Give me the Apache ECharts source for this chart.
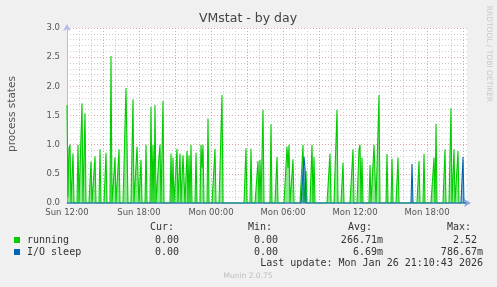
<!DOCTYPE html>
<html>
<head>
<meta charset="utf-8">
<script src="https://cdn.jsdelivr.net/npm/echarts@6/dist/echarts.min.js"></script>
<style>
html,body{margin:0;padding:0;background:#f0f0f0;}
#c{width:497px;height:287px;}
</style>
</head>
<body>
<div id="c"></div>
<script>
// ---- data (5-minute samples starting Sun 12:00; samples not listed are 0) ----
const sampleMinutes = 5;
const sampleCount = 400;
const tickLabels = ['Sun 12:00', 'Sun 18:00', 'Mon 00:00', 'Mon 06:00', 'Mon 12:00', 'Mon 18:00'];
const runningIdx = [0, 1, 2, 3, 6, 11, 15, 18, 24, 28, 33, 39, 44, 48, 52, 59, 60, 66, 70, 71, 74, 79, 84, 86, 88, 92, 93, 96,
  104, 106, 110, 113, 116, 117, 120, 122, 124, 129, 134, 135, 136, 141, 148, 155,
  179, 184, 191, 193, 196, 204, 210, 220, 221, 222, 226, 236, 239, 245, 247,
  263, 270, 276, 286, 292, 293, 295, 303, 307, 308, 312, 320, 325, 331,
  352, 357, 367, 369, 378, 384, 387, 391];
const runningVal = [1.68, 0.1, 0.94, 1.0, 0.85, 1.0, 1.71, 1.54, 0.71, 0.8, 0.92, 0.86, 2.52, 0.78, 0.92, 1.97, 2.0, 1.78, 0.97, 1.0, 0.74, 1.0, 1.65, 1.0, 1.68, 0.8, 1.0, 1.75,
  0.85, 0.78, 0.93, 0.85, 0.82, 0.82, 0.89, 0.82, 1.0, 0.86, 1.0, 0.6, 1.0, 1.45, 0.93, 1.85,
  0.94, 0.93, 0.72, 0.74, 1.6, 1.35, 0.79, 0.97, 0.6, 1.0, 0.75, 1.0, 0.55, 1.0, 0.79,
  0.85, 1.6, 0.69, 0.92, 0.92, 1.0, 0.78, 0.65, 1.0, 1.0, 1.85, 0.84, 0.76, 0.78,
  0.72, 0.84, 0.78, 1.36, 0.92, 1.63, 0.92, 0.89];
const ioIdx = [237, 238, 345, 396];
const ioVal = [0.79, 0.6, 0.67, 0.79];
const legendNames = ['running', 'I/O sleep'];
const curVals = ['0.00', '0.00'];
const minVals = ['0.00', '0.00'];
const avgVals = ['266.71m', '6.69m'];
const maxVals = ['2.52', '786.67m'];
const lastUpdate = 'Last update: Mon Jan 26 21:10:43 2026';

function buildSeries(idx, val) {
  const arr = [];
  for (let i = 0; i < sampleCount; i++) arr.push([i * sampleMinutes, 0]);
  idx.forEach((k, j) => { arr[k][1] = val[j]; });
  return arr;
}
const runningData = buildSeries(runningIdx, runningVal);
const ioData = buildSeries(ioIdx, ioVal);

const GREEN = '#00cc00', BLUE = '#0066b3';
const MAJOR = '#e4a2a2', MINOR = '#cfcfcf';
const FONT = 'DejaVu Sans', MONO = 'DejaVu Sans Mono';

const majorX = [];
for (let m = 180; m < sampleCount * sampleMinutes; m += 180) majorX.push({xAxis: m});

const chart = echarts.init(document.getElementById('c'), null, {renderer: 'canvas'});
const mono = (text, x, y, align, color) => ({
  type: 'text', x: x, y: y,
  style: {text: text, font: '10px "' + MONO + '"', fill: color || '#333', align: align || 'left', verticalAlign: 'middle'}
});
const rows = [240, 252];
const graphics = [
  {type: 'text', x: 248, y: 19, style: {text: 'VMstat - by day', font: '12.5px "' + FONT + '"', fill: '#444', align: 'center', verticalAlign: 'middle'}},
  {type: 'text', x: 12, y: 114, rotation: Math.PI / 2, style: {text: 'process states', font: '10.5px "' + FONT + '"', fill: '#555', align: 'center', verticalAlign: 'middle'}},
  {type: 'text', x: 489, y: 54, rotation: -Math.PI / 2, style: {text: 'RRDTOOL / TOBI OETIKER', font: '7.5px "' + FONT + '"', fill: '#c8c8c8', align: 'center', verticalAlign: 'middle'}},
  {type: 'text', x: 248, y: 276, style: {text: 'Munin 2.0.75', font: '7.5px "' + FONT + '"', fill: '#bdbdbd', align: 'center', verticalAlign: 'middle'}},
  mono('Cur:', 150, 227), mono('Min:', 248, 227), mono('Avg:', 348, 227), mono('Max:', 447, 227),
  mono(lastUpdate, 483, 263, 'right')
];
[GREEN, BLUE].forEach((c, i) => {
  graphics.push({type: 'rect', shape: {x: 14, y: rows[i] - 3, width: 6, height: 6}, style: {fill: c}});
  graphics.push(mono(legendNames[i], 27, rows[i]));
  graphics.push(mono(curVals[i], 179, rows[i], 'right'));
  graphics.push(mono(minVals[i], 278, rows[i], 'right'));
  graphics.push(mono(avgVals[i], 383, rows[i], 'right'));
  graphics.push(mono(maxVals[i], i === 0 ? 477 : 483, rows[i], 'right'));
});

chart.setOption({
  backgroundColor: '#f0f0f0',
  animation: false,
  grid: {left: 67, top: 28, width: 400, height: 175, show: true, backgroundColor: '#ffffff', borderWidth: 0, containLabel: false},
  xAxis: {
    type: 'value', min: 0, max: sampleCount * sampleMinutes, interval: 60,
    axisLine: {show: true, lineStyle: {color: '#8fa3e3', width: 1}, symbol: ['none', 'arrow'], symbolSize: [6, 7], symbolOffset: [0, 4]},
    axisTick: {show: false},
    axisLabel: {
      margin: 5, color: '#555', fontFamily: FONT, fontSize: 8.5, showMaxLabel: true, showMinLabel: true,
      formatter: v => (v % 360 === 0 && v / 360 < tickLabels.length) ? tickLabels[v / 360] : ''
    },
    splitLine: {show: true, showMinLine: false, showMaxLine: false, lineStyle: {color: MINOR, type: [1, 2], width: 1}}
  },
  yAxis: {
    type: 'value', min: 0, max: 3, interval: 0.5,
    axisLine: {show: true, lineStyle: {color: '#b4bcee', width: 1}, symbol: ['none', 'arrow'], symbolSize: [6, 7], symbolOffset: [0, 4]},
    axisTick: {show: false},
    axisLabel: {margin: 7, color: '#555', fontFamily: FONT, fontSize: 8.5, formatter: v => v.toFixed(1)},
    splitLine: {show: true, lineStyle: {color: MAJOR, type: [1, 2], width: 1}},
    minorTick: {show: false, splitNumber: 5},
    minorSplitLine: {show: true, lineStyle: {color: MINOR, type: [1, 2], width: 1}}
  },
  series: [
    {
      name: 'running', type: 'line', data: runningData, showSymbol: false, symbol: 'none',
      lineStyle: {color: GREEN, width: 1.1}, itemStyle: {color: GREEN},
      areaStyle: {color: GREEN, opacity: 0.45}, z: 3,
      markLine: {silent: true, symbol: ['none', 'none'], label: {show: false}, animation: false,
        lineStyle: {color: MAJOR, type: [1, 2], width: 1}, data: majorX, z: 1}
    },
    {
      name: 'I/O sleep', type: 'line', data: ioData, showSymbol: false, symbol: 'none',
      lineStyle: {color: BLUE, width: 1.1}, itemStyle: {color: BLUE},
      areaStyle: {color: BLUE, opacity: 0.45}, z: 4
    }
  ],
  graphic: graphics
});
</script>
</body>
</html>
